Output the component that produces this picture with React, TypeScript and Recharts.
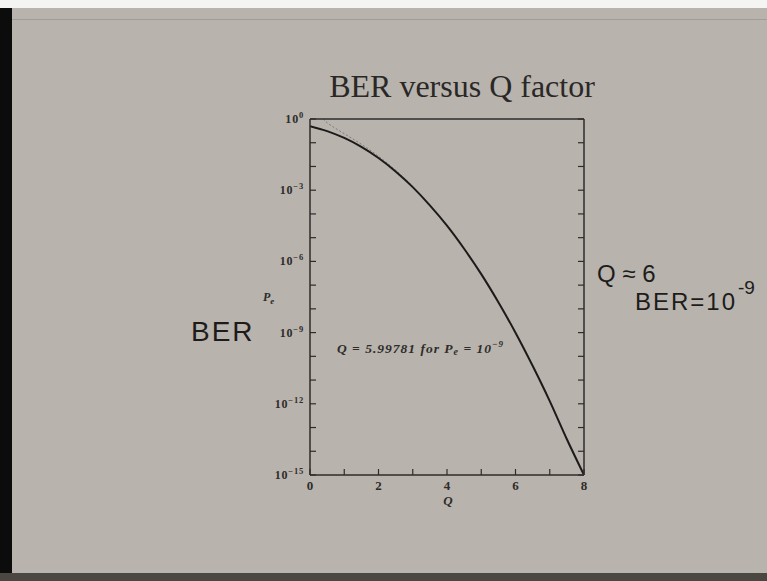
import React from "react";
import { LineChart, Line, XAxis, YAxis } from "recharts";

// Q values and bit error rate
const qValues = [0, 0.5, 1, 1.5, 2, 2.5, 3, 3.5, 4, 4.5, 5, 5.5, 6, 6.5, 7, 7.5, 8];
const berValues = [
  0.5, 0.31, 0.159, 0.067, 0.0228, 0.0062, 1.35e-3, 2.3e-4, 3.2e-5, 3.4e-6,
  2.9e-7, 1.9e-8, 9.9e-10, 4.0e-11, 1.3e-12, 3.2e-14, 1e-15,
];

// dashed asymptotic approximation (only visible at small Q)
const approxQ = [0.38, 0.5, 0.75, 1, 1.5, 2, 2.5, 3];
const approxBer = [1.0, 0.7, 0.4, 0.24, 0.086, 0.027, 0.007, 1.48e-3];

const xTicks = [0, 1, 2, 3, 4, 5, 6, 7, 8];
const xTickLabels = ["0", "", "2", "", "4", "", "6", "", "8"];
const yTicks = [
  1, 1e-1, 1e-2, 1e-3, 1e-4, 1e-5, 1e-6, 1e-7, 1e-8, 1e-9, 1e-10, 1e-11,
  1e-12, 1e-13, 1e-14, 1e-15,
];

const exactData = qValues.map((q, i) => ({ q, ber: berValues[i] }));
const approxData = approxQ.map((q, i) => ({ q, ber: approxBer[i] }));

const INK = "#2e2c2a";
const TICK_FONT = "'Liberation Serif', serif";

const expLabel = (v: number) => {
  const e = Math.round(Math.log10(v));
  if (e % 3 !== 0) return null;
  return e === 0 ? "0" : "\u2212" + String(-e);
};

const LeftTick = (props: any) => {
  const { x, y, payload } = props;
  const lbl = expLabel(payload.value);
  return (
    <g>
      <line x1={x} x2={x + 6} y1={y} y2={y} stroke={INK} strokeWidth={1.2} />
      {lbl !== null && (
        <text x={x - 6} y={y + 4} textAnchor="end" fontFamily={TICK_FONT} fontWeight="bold" fontSize={12} letterSpacing={0.8} fill={INK}>
          10
          <tspan dy={-5} fontSize={8.5}>{lbl}</tspan>
        </text>
      )}
    </g>
  );
};

const RightTick = (props: any) => {
  const { x, y } = props;
  return <line x1={x - 6} x2={x} y1={y} y2={y} stroke={INK} strokeWidth={1.2} />;
};

const BottomTick = (props: any) => {
  const { x, y, index } = props;
  return (
    <g>
      <line x1={x} x2={x} y1={y - 6} y2={y} stroke={INK} strokeWidth={1.2} />
      <text x={x} y={y + 15} textAnchor="middle" fontFamily={TICK_FONT} fontWeight="bold" fontSize={13} fill={INK}>
        {xTickLabels[index]}
      </text>
    </g>
  );
};

const TopTick = (props: any) => {
  const { x, y } = props;
  return <line x1={x} x2={x} y1={y} y2={y + 6} stroke={INK} strokeWidth={1.2} />;
};

const hand = "'Liberation Sans', sans-serif";

export default function App() {
  return (
    <div style={{ position: "relative", width: 767, height: 581, background: "#b8b3ad", overflow: "hidden" }}>
      <style>{"body{margin:0}"}</style>
      {/* photo framing */}
      <div style={{ position: "absolute", left: 0, top: 0, width: 767, height: 8, background: "#f4f4f2" }} />
      <div style={{ position: "absolute", left: 0, top: 19, width: 767, height: 1, background: "#a29d98" }} />
      <div style={{ position: "absolute", left: 0, top: 8, width: 12, height: 573, background: "#0c0c0c" }} />
      <div style={{ position: "absolute", left: 0, top: 573, width: 767, height: 8, background: "#4a4642" }} />

      <div style={{ position: "absolute", left: 0, top: 0 }}>
        <LineChart width={767} height={581} margin={{ top: 109, right: 173, bottom: 76, left: 270 }}>
          <XAxis
            dataKey="q"
            type="number"
            domain={[0, 8]}
            ticks={xTicks}
            height={30}
            tickSize={0}
            tickMargin={0}
            tick={<BottomTick />}
            axisLine={{ stroke: INK, strokeWidth: 1.5 }}
            tickLine={false}
            allowDataOverflow
          />
          <XAxis
            xAxisId="top"
            orientation="top"
            type="number"
            domain={[0, 8]}
            ticks={xTicks}
            height={10}
            tickSize={0}
            tickMargin={0}
            tick={<TopTick />}
            axisLine={{ stroke: INK, strokeWidth: 1.5 }}
            tickLine={false}
            allowDataOverflow
          />
          <YAxis
            scale="log"
            type="number"
            domain={[1e-15, 1]}
            ticks={yTicks}
            width={40}
            tickSize={0}
            tickMargin={0}
            tick={<LeftTick />}
            axisLine={{ stroke: INK, strokeWidth: 1.5 }}
            tickLine={false}
            allowDataOverflow
          />
          <YAxis
            yAxisId="right"
            orientation="right"
            scale="log"
            type="number"
            domain={[1e-15, 1]}
            ticks={yTicks}
            width={10}
            tickSize={0}
            tickMargin={0}
            tick={<RightTick />}
            axisLine={{ stroke: INK, strokeWidth: 1.5 }}
            tickLine={false}
            allowDataOverflow
          />
          <Line
            data={approxData}
            dataKey="ber"
            type="monotone"
            stroke="#7d7a76"
            strokeWidth={1}
            strokeDasharray="2 2"
            dot={false}
            isAnimationActive={false}
          />
          <Line
            data={exactData}
            dataKey="ber"
            type="monotone"
            stroke="#1c1b1a"
            strokeWidth={2}
            dot={false}
            isAnimationActive={false}
          />
        </LineChart>
      </div>

      {/* slide text and handwritten notes */}
      <svg width={767} height={581} style={{ position: "absolute", left: 0, top: 0, pointerEvents: "none" }}>
        <text x={462} y={97} textAnchor="middle" fontFamily="'Liberation Serif', serif" fontSize={32} fill="#2a2826">
          BER versus Q factor
        </text>
        <text x={448} y={505} textAnchor="middle" fontFamily={TICK_FONT} fontStyle="italic" fontWeight="bold" fontSize={13} fill={INK}>
          Q
        </text>
        <text x={263} y={301} fontFamily={TICK_FONT} fontStyle="italic" fontWeight="bold" fontSize={12} fill={INK}>
          P<tspan dy={3} fontSize={9}>e</tspan>
        </text>
        <text x={337} y={353} fontFamily={TICK_FONT} fontStyle="italic" fontWeight="bold" fontSize={13.5} letterSpacing={1} fill={INK}>
          Q = 5.99781 for P<tspan dy={2} fontSize={10}>e</tspan>
          <tspan dy={-2}> = 10</tspan>
          <tspan dy={-6} fontSize={9}>{"\u22129"}</tspan>
        </text>
        <text x={191} y={341} fontFamily={hand} fontSize={28} letterSpacing={2} fill="#1d1c1b">
          BER
        </text>
        <text x={597} y={282} fontFamily={hand} fontSize={24} fill="#1d1c1b">
          Q ≈ 6
        </text>
        <text x={635} y={310} fontFamily={hand} fontSize={24} letterSpacing={2} fill="#1d1c1b">
          BER=10
        </text>
        <text x={738} y={294} fontFamily={hand} fontSize={19} fill="#1d1c1b">
          -9
        </text>
      </svg>
    </div>
  );
}
